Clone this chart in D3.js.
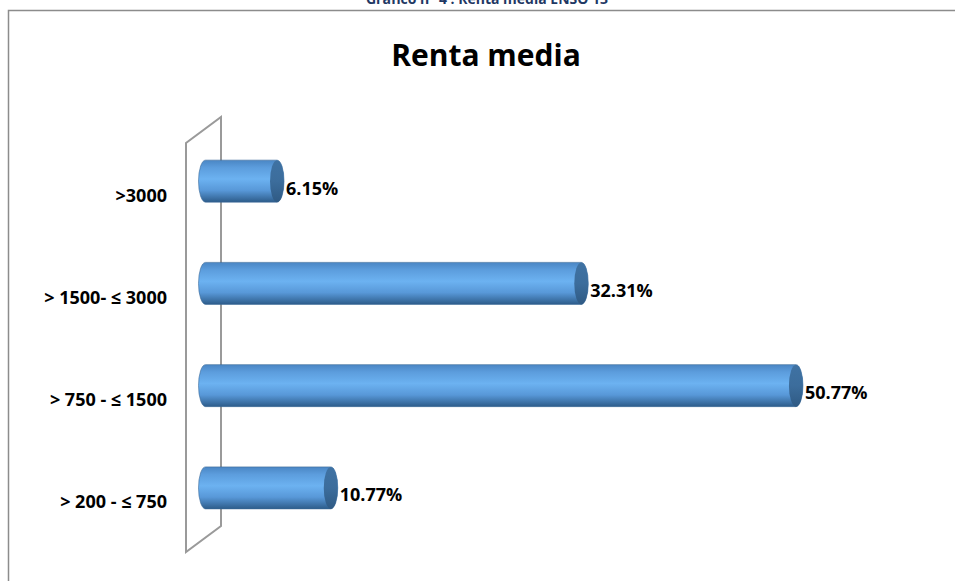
<!DOCTYPE html>
<html>
<head>
<meta charset="utf-8">
<script src="https://cdn.jsdelivr.net/npm/d3@7"></script>
<style>
  body { margin: 0; background: #fff; }
  svg { display: block; font-family: "Open Sans", "Noto Sans", sans-serif; }
</style>
</head>
<body>
<div class="chart"></div>
<script>
// data
var categories = [">3000", "> 1500- ≤ 3000", "> 750 - ≤ 1500", "> 200 - ≤ 750"];
var values = [6.15, 32.31, 50.77, 10.77];
var valueLabels = ["6.15%", "32.31%", "50.77%", "10.77%"];
var chartTitle = "Renta media";
var pageHeading = "Gráfico n° 4 : Renta media ENSO 13";

var W = 955, H = 581;

// 3d depth of the plot (front plane -> back wall)
var depthX = 35, depthY = -26;

var svg = d3.select(".chart").append("svg")
  .attr("width", W)
  .attr("height", H);

// gradients for the cylinders
var defs = svg.append("defs");
var bodyGrad = defs.append("linearGradient")
  .attr("id", "body").attr("x1", 0).attr("y1", 0).attr("x2", 0).attr("y2", 1);
[["0%", "#4a86c4"], ["18%", "#5c9ddd"], ["45%", "#6cb2f1"], ["72%", "#5898d8"], ["100%", "#2d5c8a"]]
  .forEach(function (s) { bodyGrad.append("stop").attr("offset", s[0]).attr("stop-color", s[1]); });
var capGrad = defs.append("linearGradient")
  .attr("id", "cap").attr("x1", 0).attr("y1", 0).attr("x2", 0).attr("y2", 1);
[["0%", "#3f72a3"], ["50%", "#3c6d9c"], ["100%", "#2f5a84"]]
  .forEach(function (s) { capGrad.append("stop").attr("offset", s[0]).attr("stop-color", s[1]); });

// page heading, cut off at the top like in the original
svg.append("text")
  .attr("x", 487)
  .attr("y", 4)
  .attr("text-anchor", "middle")
  .style("font-size", "14px")
  .style("font-weight", "bold")
  .style("fill", "#1f3864")
  .text(pageHeading);

// chart area border
svg.append("path")
  .attr("d", "M8.5," + H + " V10.5 H" + W)
  .attr("fill", "none")
  .attr("stroke", "#8c8c8c")
  .attr("stroke-width", 1.5);

// title
svg.append("text")
  .attr("x", 486)
  .attr("y", 66)
  .attr("text-anchor", "middle")
  .style("font-size", "30px")
  .style("font-weight", "bold")
  .style("fill", "#000")
  .text(chartTitle);

// scales (front plane)
var yScale = d3.scaleBand().domain(categories).range([143, 552]);
var xScale = d3.scaleLinear().domain([0, 60]).range([188, 188 + 60 * 11.63]);

// back wall
var y0 = yScale.range()[0], y1 = yScale.range()[1], x0 = 186;
svg.append("path")
  .attr("d", "M" + x0 + "," + y1 + " V" + y0 +
    " L" + (x0 + depthX) + "," + (y0 + depthY) +
    " V" + (y1 + depthY) + " Z")
  .attr("fill", "none")
  .attr("stroke", "#9a9a9a")
  .attr("stroke-width", 2);

// cylinders sit halfway in the depth
var barH = 42, rx = 7, ry = barH / 2;
var data = categories.map(function (c, i) { return { cat: c, v: values[i], label: valueLabels[i] }; });

function cy(d) { return yScale(d.cat) + yScale.bandwidth() / 2 + depthY / 2; }
function xs(v) { return xScale(v) + depthX / 2; }

var bars = svg.selectAll(".bar").data(data).enter().append("g").attr("class", "bar");

bars.append("path")
  .attr("d", function (d) {
    var a = xs(0), b = xs(d.v), t = cy(d) - ry, btm = cy(d) + ry;
    return "M" + a + "," + t + " H" + b +
      " A" + rx + "," + ry + " 0 0 1 " + b + "," + btm +
      " H" + a +
      " A" + rx + "," + ry + " 0 0 1 " + a + "," + t + " Z";
  })
  .attr("fill", "url(#body)")
  .attr("stroke", "#3a6a98")
  .attr("stroke-width", 0.6);

bars.append("ellipse")
  .attr("cx", function (d) { return xs(d.v); })
  .attr("cy", cy)
  .attr("rx", rx)
  .attr("ry", ry)
  .attr("fill", "url(#cap)");

// value labels
bars.append("text")
  .attr("x", function (d) { return xs(d.v) + 9; })
  .attr("y", function (d) { return cy(d) + 13.5; })
  .style("font-size", "18px")
  .style("font-weight", "bold")
  .style("fill", "#000")
  .text(function (d) { return d.label; });

// category axis labels
svg.selectAll(".cat").data(categories).enter().append("text")
  .attr("class", "cat")
  .attr("x", 167)
  .attr("y", function (d) { return yScale(d) + yScale.bandwidth() / 2 + 7.5; })
  .attr("text-anchor", "end")
  .style("font-size", "18px")
  .style("font-weight", "bold")
  .style("fill", "#000")
  .text(function (d) { return d; });
</script>
</body>
</html>
